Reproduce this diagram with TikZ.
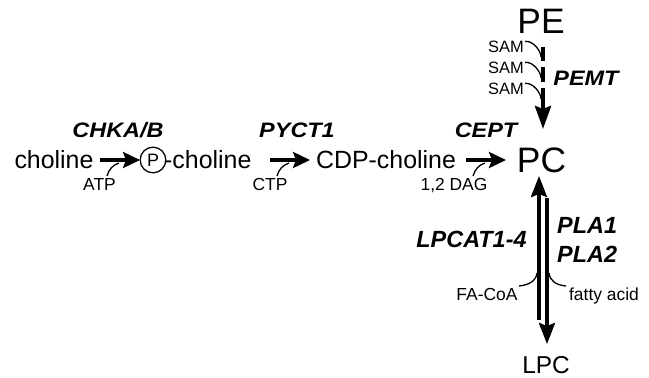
\documentclass[tikz,border=0pt]{standalone}
\usepackage{fontspec}
\setmainfont{Liberation Sans}
\usetikzlibrary{arrows.meta}
\begin{document}
\begin{tikzpicture}[x=1bp,y=-1bp,
  txt/.style={inner sep=0pt, anchor=base, font=\fontsize{25}{25}\selectfont},
  big/.style={inner sep=0pt, anchor=base, font=\fontsize{35.5}{35.5}\selectfont},
  enz/.style={inner sep=0pt, anchor=base, font=\fontsize{21}{21}\selectfont\bfseries\itshape, xscale=1.12},
  enzb/.style={inner sep=0pt, anchor=base, font=\fontsize{23.5}{23.5}\selectfont\bfseries\itshape},
  cof/.style={inner sep=0pt, anchor=base, font=\fontsize{17.5}{17.5}\selectfont},
  samlbl/.style={inner sep=0pt, anchor=base, font=\fontsize{16.5}{16.5}\selectfont},
  main/.style={line width=4.5bp, -{Stealth[length=17bp,width=16bp,inset=3bp]}},
  vert/.style={line width=3.5bp, -{Stealth[length=21bp,width=16bp,inset=3bp]}},
  seg/.style={line width=4bp},
  feed/.style={line width=1.3bp},
  ]
\useasboundingbox (0,0) rectangle (649,377);

% metabolites
\node[txt] (cho) at (54,168) {choline};
\node[circle, draw, line width=1.3bp, inner sep=3bp, font=\fontsize{18}{18}\selectfont] (pc1) at (153,160) {P};
\node[txt, anchor=base west] (pcho) at (164,168) {-choline};
\node[txt] (cdp) at (386,168) {CDP-choline};
\node[big] (pc) at (541.5,172) {PC};
\node[big] (pe) at (541,33) {PE};
\node[inner sep=0pt, anchor=base, font=\fontsize{24.5}{24.5}\selectfont] (lpc) at (546,373) {LPC};

% enzymes
\node[enz] (chk) at (118,137) {CHKA/B};
\node[enz] (pyc) at (297,137) {PYCT1};
\node[enz] (cept) at (486,137) {CEPT};
\node[enz] (pemt) at (586,85) {PEMT};
\node[enzb] (lpcat) at (471.5,247) {LPCAT1-4};
\node[enzb, anchor=base west] (pla1) at (557,233) {PLA1};
\node[enzb, anchor=base west] (pla2) at (557,262) {PLA2};

% co-substrates
\node[cof] (atp) at (99.5,190) {ATP};
\node[cof] (ctp) at (270,190) {CTP};
\node[cof] (dag) at (454,190) {1,2 DAG};
\node[cof] (facoa) at (487,300) {FA-CoA};
\node[cof] (fa) at (604,300) {fatty acid};
\node[samlbl] (sam1) at (506,52) {SAM};
\node[samlbl] (sam2) at (506,73) {SAM};
\node[samlbl] (sam3) at (506,94) {SAM};

% Kennedy pathway arrows
\coordinate (a1s) at (100,160); \coordinate (a1e) at (140,160);
\coordinate (a2s) at (270,160); \coordinate (a2e) at (310,160);
\coordinate (a3s) at (466,160); \coordinate (a3e) at (506,160);
\draw[main] (a1s) -- (a1e);
\draw[main] (a2s) -- (a2e);
\draw[main] (a3s) -- (a3e);
\draw[feed] (107,176) .. controls (109,169) and (113,165) .. (119,163);
\draw[feed] (277,176) .. controls (279,169) and (283,165) .. (289,163);
\draw[feed] (473,176) .. controls (475,169) and (479,165) .. (485,163);

% PEMT methylation steps
\coordinate (m0) at (543,47); \coordinate (m1) at (543,61);
\coordinate (m2) at (543,67); \coordinate (m3) at (543,82);
\coordinate (m4) at (543,88); \coordinate (m5) at (543,129);
\draw[seg] (m0) -- (m1);
\draw[seg] (m2) -- (m3);
\draw[line width=4bp, -{Stealth[length=23bp,width=16bp,inset=3bp]}] (m4) -- (m5);
\draw[feed] (sam1.east) ++(1,-5) .. controls +(8,-1) and +(0,-6) .. (541,57);
\draw[feed] (sam2.east) ++(1,-5) .. controls +(8,-1) and +(0,-6) .. (541,78);
\draw[feed] (sam3.east) ++(1,-5) .. controls +(8,-1) and +(0,-6) .. (541,99);

% Lands cycle
\coordinate (l1s) at (539,320); \coordinate (l1e) at (539,176);
\coordinate (l2s) at (547,198); \coordinate (l2e) at (547,344);
\draw[vert] (l1s) -- (l1e);
\draw[vert] (l2s) -- (l2e);
\draw[feed] (519,286) .. controls (529,285) and (536,281) .. (537,273);
\draw[feed] (566,286) .. controls (556,285) and (550,281) .. (549,273);
\end{tikzpicture}
\end{document}
